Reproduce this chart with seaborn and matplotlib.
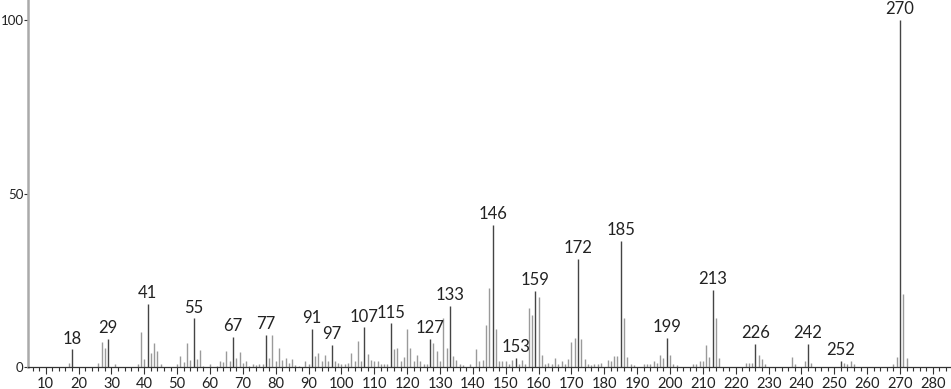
import matplotlib
matplotlib.use("Agg")
import matplotlib.pyplot as plt
import seaborn as sns
import numpy as np
from matplotlib.ticker import MultipleLocator

mz = [17, 18, 26, 27, 28, 29, 31, 38, 39, 40, 41, 42, 43, 44, 45, 50, 51, 52, 53, 54,
      55, 56, 57, 58, 60, 62, 63, 64, 65, 66, 67, 68, 69, 70, 71, 72, 73, 74, 75, 76,
      77, 78, 79, 80, 81, 82, 83, 84, 85, 86, 87, 89, 90, 91, 92, 93, 94, 95, 96, 97,
      98, 99, 100, 101, 102, 103, 104, 105, 106, 107, 108, 109, 110, 111, 112, 113, 114, 115, 116, 117,
      118, 119, 120, 121, 122, 123, 124, 125, 126, 127, 128, 129, 130, 131, 132, 133, 134, 135, 136, 137,
      139, 141, 142, 143, 144, 145, 146, 147, 148, 149, 150, 151, 152, 153, 154, 155, 156, 157, 158, 159,
      160, 161, 162, 163, 164, 165, 166, 167, 168, 169, 170, 171, 172, 173, 174, 175, 176, 177, 178, 179,
      181, 182, 183, 184, 185, 186, 187, 188, 189, 192, 193, 194, 195, 196, 197, 198, 199, 200, 201, 202,
      207, 208, 209, 210, 211, 212, 213, 214, 215, 223, 224, 225, 226, 227, 228, 229, 237, 238, 241, 242,
      243, 252, 253, 254, 255, 256, 268, 269, 270, 271, 272]
intensity = [1.2, 5.1, 1.2, 7.2, 5.5, 8.1, 0.8, 0.8, 10.0, 2.3, 18.2, 3.9, 6.8, 4.7, 0.8, 1.0, 3.2, 1.5, 6.8, 2.0,
             14.0, 2.3, 4.9, 0.3, 0.8, 0.3, 1.8, 1.5, 4.6, 1.8, 8.6, 2.6, 4.2, 1.2, 1.6, 0.3, 0.8, 0.5, 0.8, 0.8,
             9.2, 2.6, 9.2, 1.6, 5.4, 2.0, 2.6, 1.2, 2.2, 0.5, 0.3, 1.6, 1.0, 11.0, 3.1, 3.9, 1.8, 3.4, 1.6, 6.3,
             1.8, 1.2, 1.0, 0.8, 1.2, 4.1, 1.6, 7.6, 1.6, 11.4, 3.8, 2.0, 1.7, 1.7, 1.0, 0.8, 0.8, 12.6, 5.2, 5.4,
             1.6, 2.9, 11.0, 5.4, 1.6, 3.4, 1.8, 1.0, 1.0, 8.0, 6.8, 4.5, 1.8, 14.0, 5.4, 17.7, 3.1, 2.0, 0.8, 0.5,
             1.0, 5.2, 1.7, 2.0, 12.1, 22.8, 40.9, 11.0, 1.7, 1.6, 1.7, 1.0, 2.0, 2.6, 1.0, 2.0, 0.8, 17.1, 15.0, 22.0,
             20.1, 3.5, 0.8, 1.2, 1.0, 2.6, 0.8, 1.7, 1.0, 2.3, 7.2, 8.5, 31.1, 8.1, 2.3, 0.8, 0.5, 0.8, 0.8, 1.2,
             2.0, 1.6, 3.1, 3.1, 36.3, 14.0, 2.8, 0.8, 0.5, 0.8, 0.8, 1.0, 1.7, 1.2, 3.4, 2.6, 8.5, 3.4, 1.0, 0.5,
             0.8, 0.8, 1.6, 1.6, 6.3, 3.0, 22.2, 14.0, 2.6, 1.2, 1.2, 1.2, 6.7, 3.4, 2.2, 0.8, 2.9, 0.8, 1.6, 6.6,
             1.2, 1.8, 1.2, 0.8, 1.8, 1.0, 1.0, 3.0, 100.0, 21.0, 2.6]
labeled = [18, 29, 41, 55, 67, 77, 91, 97, 107, 115, 127, 133, 146, 153, 159, 172, 185, 199, 213, 226, 242, 252, 270]
y_ticks = [0, 50, 100]
x_ticks = list(range(10, 290, 10))

sns.set_theme(style="ticks")
plt.rcParams['font.family'] = ['Lato', 'DejaVu Sans']

fig = plt.figure(figsize=(9.51, 3.89), dpi=100)
ax = fig.add_axes([28 / 951, 22 / 389, 923 / 951, 367 / 389])

mz_a = np.array(mz)
it_a = np.array(intensity)
is_lab = np.isin(mz_a, labeled)

ax.vlines(mz_a[~is_lab], 0, it_a[~is_lab], color="#9a9a9a", linewidth=1.0)
ax.vlines(mz_a[is_lab], 0, it_a[is_lab], color="#444444", linewidth=1.0)

for m in labeled:
    v = it_a[mz_a == m][0]
    ax.annotate(str(m), (m, v), xytext=(0, 2), textcoords="offset points",
                ha="center", va="bottom", fontsize=12, color="#222222")

ax.set_xlim(4.6, 285.5)
ax.set_ylim(0, 105.8)
ax.set_yticks(y_ticks)
ax.set_xticks(x_ticks)
ax.xaxis.set_minor_locator(MultipleLocator(2))
ax.tick_params(axis="x", which="major", length=5, width=0.8, color="#333333",
               labelsize=10.5, pad=2, labelcolor="#222222")
ax.tick_params(axis="x", which="minor", length=3, width=0.8, color="#333333")
ax.tick_params(axis="y", which="major", length=3, width=0.8, color="#333333",
               labelsize=9.5, pad=0.3, labelcolor="#222222")

sns.despine(ax=ax, top=True, right=True)
ax.spines["left"].set_color("#aaaaaa")
ax.spines["left"].set_linewidth(1.8)
ax.spines["bottom"].set_color("#333333")
ax.spines["bottom"].set_linewidth(0.9)
ax.grid(False)
ax.set_facecolor("white")
fig.patch.set_facecolor("white")

fig.savefig("out.png", dpi=100)
